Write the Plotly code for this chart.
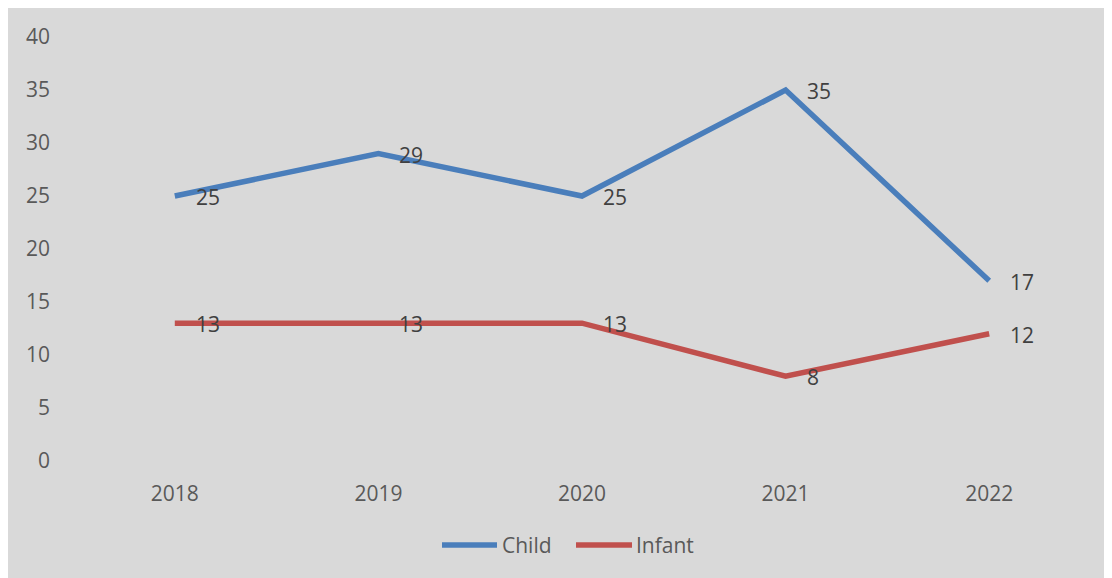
import plotly.graph_objects as go

years = ["2018", "2019", "2020", "2021", "2022"]
child = [25, 29, 25, 35, 17]
infant = [13, 13, 13, 8, 12]
y_ticks = [0, 5, 10, 15, 20, 25, 30, 35, 40]

BLUE = "#4a7ebb"
RED = "#c0504d"
BG = "#d9d9d9"
FONT = "Open Sans"
FS = 21

fig = go.Figure()
series_list = [("Child", child, BLUE), ("Infant", infant, RED)]
for name, vals, col in series_list:
    fig.add_trace(go.Scatter(x=list(range(len(years))), y=vals, mode="lines", name=name,
                             line=dict(color=col, width=5.5), showlegend=False))

annotations = []
for name, vals, col in series_list:
    for i, yv in enumerate(vals):
        annotations.append(dict(x=i, y=yv, xref="x", yref="y", text=str(yv), showarrow=False,
                                xanchor="left", yanchor="middle", xshift=19, yshift=-1,
                                font=dict(family=FONT, size=FS, color="#404040")))

W, H = 1104, 570
L, R, T, B = 65, 21, 29, 117
pw, ph = W - L - R, H - T - B

def px_x(p):
    return (p - L) / pw

def px_y(p):
    return (H - B - p) / ph

# manual legend (long line samples like the original)
leg_y = px_y(537)
legend_items = [("Child", BLUE, 434, 489, 492), ("Infant", RED, 568, 624, 626)]
shapes = []
for name, col, a, b, t in legend_items:
    shapes.append(dict(type="line", xref="paper", yref="paper", x0=px_x(a), x1=px_x(b),
                       y0=leg_y, y1=leg_y, line=dict(color=col, width=5.5)))
    annotations.append(dict(x=px_x(t), y=leg_y, xref="paper", yref="paper", text=name,
                            showarrow=False, xanchor="left", yanchor="middle",
                            font=dict(family=FONT, size=FS, color="#595959")))

fig.update_layout(
    width=W, height=H,
    margin=dict(l=L, r=R, t=T, b=B),
    paper_bgcolor=BG,
    plot_bgcolor=BG,
    font=dict(family=FONT, size=FS, color="#595959"),
    shapes=shapes,
    annotations=annotations,
    showlegend=False,
    xaxis=dict(range=[-0.5, 4.5], tickvals=list(range(len(years))), ticktext=years,
               showgrid=False, zeroline=False, showline=False, ticks="",
               ticklabelstandoff=18, tickfont=dict(family=FONT, size=FS, color="#595959")),
    yaxis=dict(range=[0, 40], tickvals=y_ticks, showgrid=False, zeroline=False,
               showline=False, ticks="", ticklabelstandoff=22,
               tickfont=dict(family=FONT, size=FS, color="#595959")),
)

fig.write_html("out.html")
